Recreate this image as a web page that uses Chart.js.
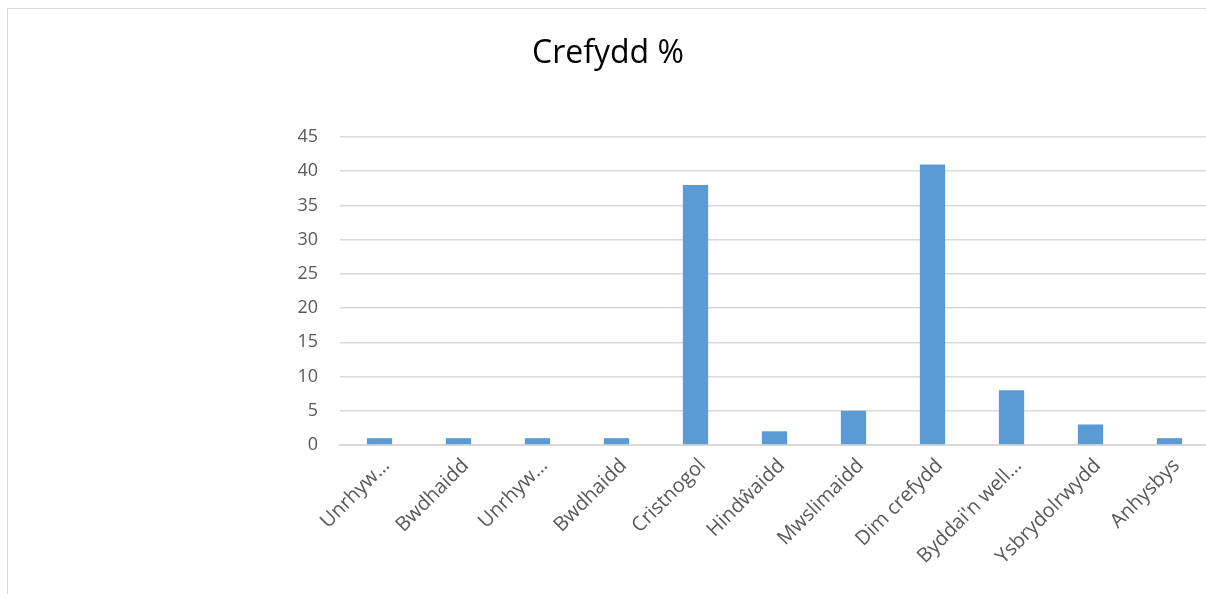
<!DOCTYPE html>
<html>
<head>
<meta charset="utf-8">
<script src="https://cdn.jsdelivr.net/npm/chart.js@4"></script>
<style>
  html, body { margin: 0; padding: 0; background: #fff; overflow: hidden; }
  #ffram {
    position: absolute; left: 7px; top: 8px;
    width: 1240px; height: 620px;
    border: 1px solid #d9d9d9; box-sizing: border-box;
  }
  #cynhwysydd { position: absolute; left: 8px; top: 9px; width: 1220px; height: 600px; }
</style>
</head>
<body>
<div id="ffram"></div>
<div id="cynhwysydd"><canvas id="siart"></canvas></div>
<script>
// data'r siart
const categorïau = ["Unrhyw…", "Bwdhaidd", "Unrhyw…", "Bwdhaidd", "Cristnogol", "Hindŵaidd",
                    "Mwslimaidd", "Dim crefydd", "Byddai'n well…", "Ysbrydolrwydd", "Anhysbys"];
const gwerthoedd = [1, 1, 1, 1, 38, 2, 5, 41, 8, 3, 1];
const teitl = "Crefydd %";
const echelY = { min: 0, max: 45, cam: 5 };

const ffont = "'Open Sans', 'Liberation Sans', sans-serif";
const llwyd = "#595959";

// teitl wedi'i ganoli ar draws y ffrâm gyfan, nid dros ardal y siart
const teitlCanol = {
    id: 'teitlCanol',
    afterDraw(chart) {
        const ctx = chart.ctx;
        ctx.save();
        ctx.font = "32px " + ffont;
        ctx.fillStyle = "#000";
        ctx.textAlign = "center";
        ctx.textBaseline = "middle";
        ctx.fillText(teitl, 600, 45);
        ctx.restore();
    }
};

new Chart(document.getElementById("siart"), {
    type: 'bar',
    data: {
        labels: categorïau,
        datasets: [{
            label: teitl,
            data: gwerthoedd,
            backgroundColor: "#5b9bd5",
            barPercentage: 0.32,
            categoryPercentage: 1
        }]
    },
    options: {
        responsive: true,
        maintainAspectRatio: false,
        animation: false,
        layout: { padding: { top: 128, left: 272, right: 19, bottom: 0 } },
        plugins: {
            legend: { display: false },
            tooltip: { enabled: false },
            title: { display: false }
        },
        scales: {
            x: {
                grid: { display: false, drawTicks: false },
                border: { display: true, color: "#d9d9d9", width: 2 },
                ticks: {
                    color: llwyd,
                    font: { family: ffont, size: 20 },
                    minRotation: 45, maxRotation: 45,
                    autoSkip: false,
                    padding: 9,
                    labelOffset: 7
                },
                afterFit: (s) => { s.height = 164; }
            },
            y: {
                min: echelY.min, max: echelY.max,
                grid: { color: "#d9d9d9", lineWidth: 1.5, drawTicks: false },
                border: { display: false },
                ticks: {
                    stepSize: echelY.cam,
                    color: llwyd,
                    font: { family: ffont, size: 18 },
                    padding: 22
                },
                afterFit: (s) => { s.width = 60; }
            }
        }
    },
    plugins: [teitlCanol]
});
</script>
</body>
</html>
